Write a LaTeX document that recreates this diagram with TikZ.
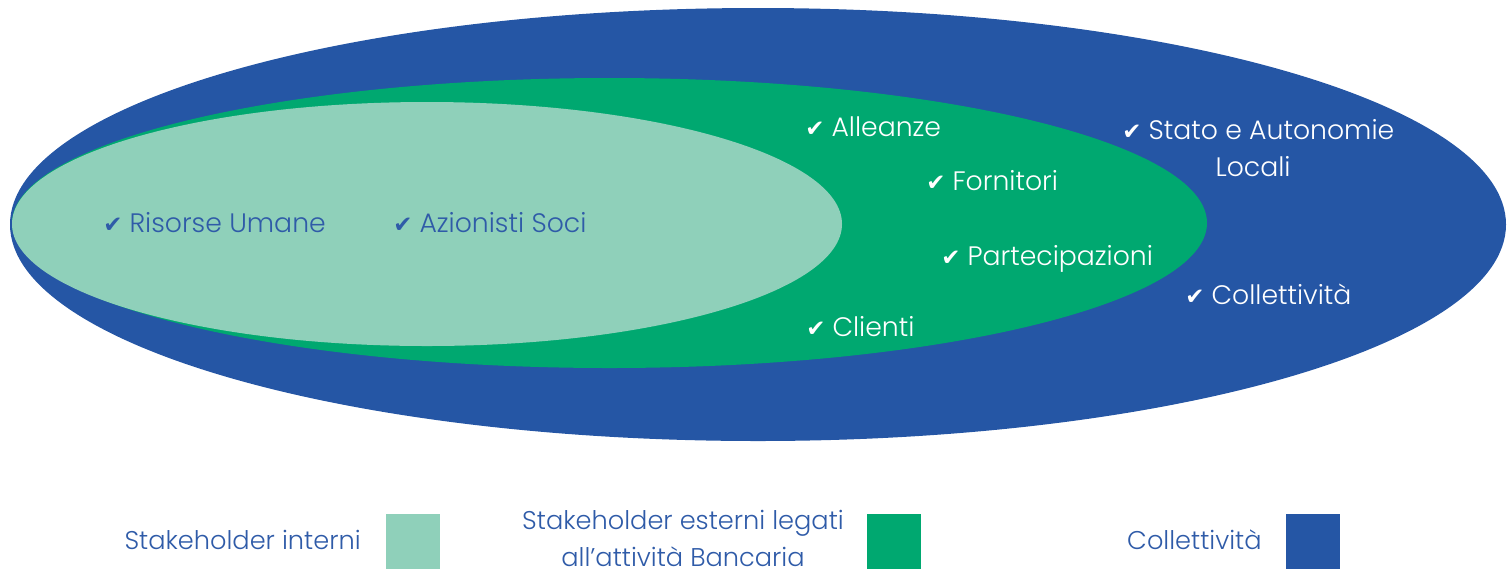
\documentclass[tikz,border=0pt]{standalone}
\usepackage{fontspec}
\setmainfont{Poppins}[UprightFont=* Light]
\newfontfamily\symfont{DejaVu Sans}
\usetikzlibrary{positioning}

\definecolor{blueColl}{HTML}{2556A5}
\definecolor{greenEst}{HTML}{00A870}
\definecolor{lightInt}{HTML}{8FD0BA}
\definecolor{textBlue}{HTML}{2F5BA8}

\newcommand{\chk}{{\symfont\fontsize{13}{13}\selectfont\char"2714}\hspace{4pt}}

\tikzset{
  item/.style={inner sep=0pt, anchor=base west, font=\fontsize{15.2}{18}\selectfont},
  initem/.style={item, text=textBlue},
  outitem/.style={item, text=white},
  legtext/.style={inner sep=0pt, text=textBlue, font=\fontsize{14.6}{20.5}\selectfont},
  legbox/.style={minimum width=1.08cm, minimum height=1.1cm, inner sep=0pt, anchor=north west}
}

\begin{document}
\begin{tikzpicture}[x=0.02cm,y=-0.02cm]
    \useasboundingbox (0,0) rectangle (1507,569);
    % the three ellipses
    \fill[blueColl] (758,224.5) ellipse [x radius=748, y radius=216.5];
    \fill[greenEst] (609.5,223) ellipse [x radius=597.5, y radius=145];
    \fill[lightInt] (427,224) ellipse [x radius=415, y radius=122];
    % stakeholder interni
    \node[initem] (risorse) at (103,232.5) {\chk Risorse Umane};
    \node[initem] (azionisti) at (393,232.5) {\chk Azionisti Soci};
    % stakeholder esterni
    \node[outitem] (alleanze) at (805,136) {\chk Alleanze};
    \node[outitem] (fornitori) at (926,190) {\chk Fornitori};
    \node[outitem] (partecip) at (941,265.5) {\chk Partecipazioni};
    \node[outitem] (clienti) at (806,336.5) {\chk Clienti};
    % collettivita
    \node[outitem] (stato) at (1122,139) {\chk Stato e Autonomie};
    \node[item, text=white, anchor=base] (locali) at (1253,176.5) {Locali};
    \node[outitem] (collett) at (1185,304) {\chk Collettività};
    % legend
    \node[legbox, fill=lightInt] (boxInt) at (386,514) {};
    \node[legtext, anchor=base east] (legInt) at (361,549) {Stakeholder interni};
    \node[legbox, fill=greenEst] (boxEst) at (867,514) {};
    \node[legtext, align=center, anchor=base] (legEst) at (683,566) {Stakeholder esterni legati\\all’attività Bancaria};
    \node[legbox, fill=blueColl] (boxColl) at (1286,514) {};
    \node[legtext, anchor=base east] (legColl) at (1262,549) {Collettività};
\end{tikzpicture}
\end{document}
